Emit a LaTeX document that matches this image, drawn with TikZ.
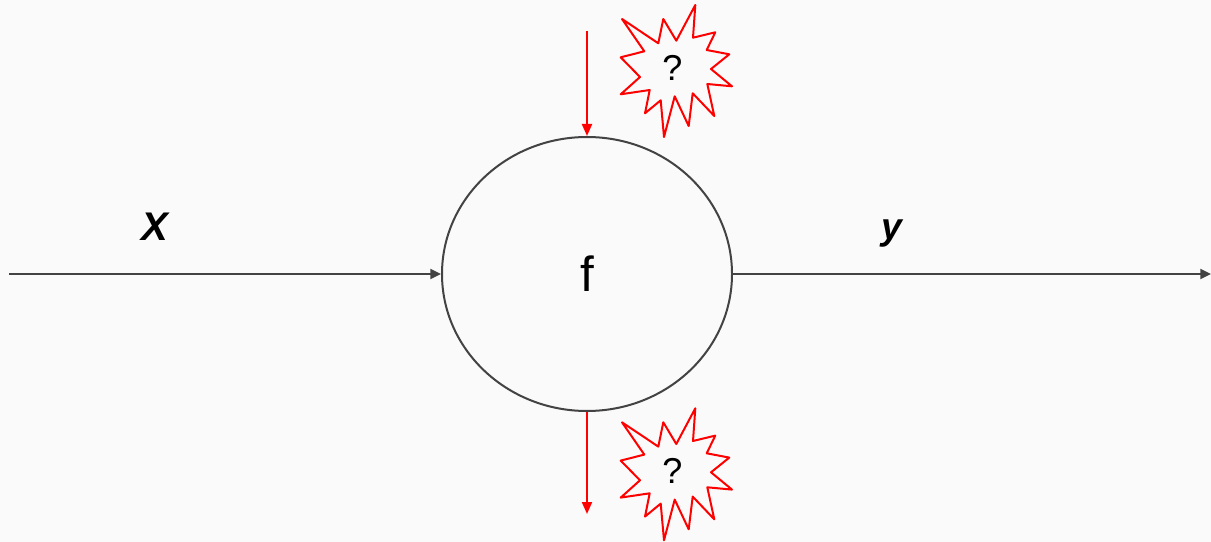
\documentclass[tikz,border=0pt]{standalone}
\usepackage{fontspec}
\setmainfont{Liberation Sans}
\usetikzlibrary{shapes.geometric,arrows.meta}
\definecolor{bgc}{HTML}{FAFAFA}
\definecolor{ink}{HTML}{434343}
\definecolor{burst}{HTML}{FF0000}
\newcommand{\burstshape}[1]{%
  \draw[burstline,shift={(0,#1)}]
  (622,19) -- (658.3,43.3) -- (663.3,19) -- (676.3,40.7) -- (695.3,5) -- (693,37.7) -- (715.3,32.3) -- (706.7,50) -- (729.3,54.3) -- (711,69) -- (732,86.3) -- (707.3,84) -- (714.3,116) -- (692.7,93.3) -- (688.7,126) -- (674.7,96.3) -- (664,137) -- (660.7,100.3) -- (645,113.3) -- (649.7,90) -- (620.7,94.3) -- (640,77) -- (620.7,57.3) -- (644.3,51.3) -- cycle;}
\tikzset{
  x=0.75pt,y=-0.75pt,
  blackline/.style={draw=ink,line width=1.5pt},
  blackarrow/.style={blackline,-{Triangle[length=8pt,width=7.5pt]}},
  redarrow/.style={draw=burst,line width=1.5pt,-{Triangle[length=9pt,width=7.5pt]}},
  burstline/.style={draw=burst,line width=1.5pt,line join=round},
  bodynode/.style={ellipse,draw=ink,line width=1.5pt,minimum width=217.5pt,minimum height=205.5pt,inner sep=0pt,font=\fontsize{37}{44}\selectfont},
  qmark/.style={font=\fontsize{27}{32}\selectfont,inner sep=0pt,text=black},
  lab/.style={font=\fontsize{30}{36}\selectfont\bfseries\itshape,inner sep=0pt,text=black},
  laby/.style={font=\fontsize{28}{34}\selectfont\bfseries\itshape,inner sep=0pt,text=black}
}
\begin{document}
\begin{tikzpicture}
\fill[bgc] (0,0) rectangle (1211,542);
\useasboundingbox (0,0) rectangle (1211,542);
\node[bodynode] (f) at (587,274) {f};
\coordinate (inS) at (9,274);
\coordinate (outE) at (1211,274);
\coordinate (topS) at (587,31);
\coordinate (botE) at (587,514);
\draw[blackarrow] (inS) -- (f.west);
\draw[blackarrow] (f.east) -- (outE);
\draw[redarrow] (topS) -- (f.north);
\draw[redarrow] (f.south) -- (botE);
\burstshape{0}
\burstshape{403.3}
\node[qmark] (q1) at (672.5,68) {?};
\node[qmark] (q2) at (672.5,471) {?};
\node[lab] (xl) at (155,227) {X};
\node[laby] (yl) at (892,234) {y};
\end{tikzpicture}
\end{document}
